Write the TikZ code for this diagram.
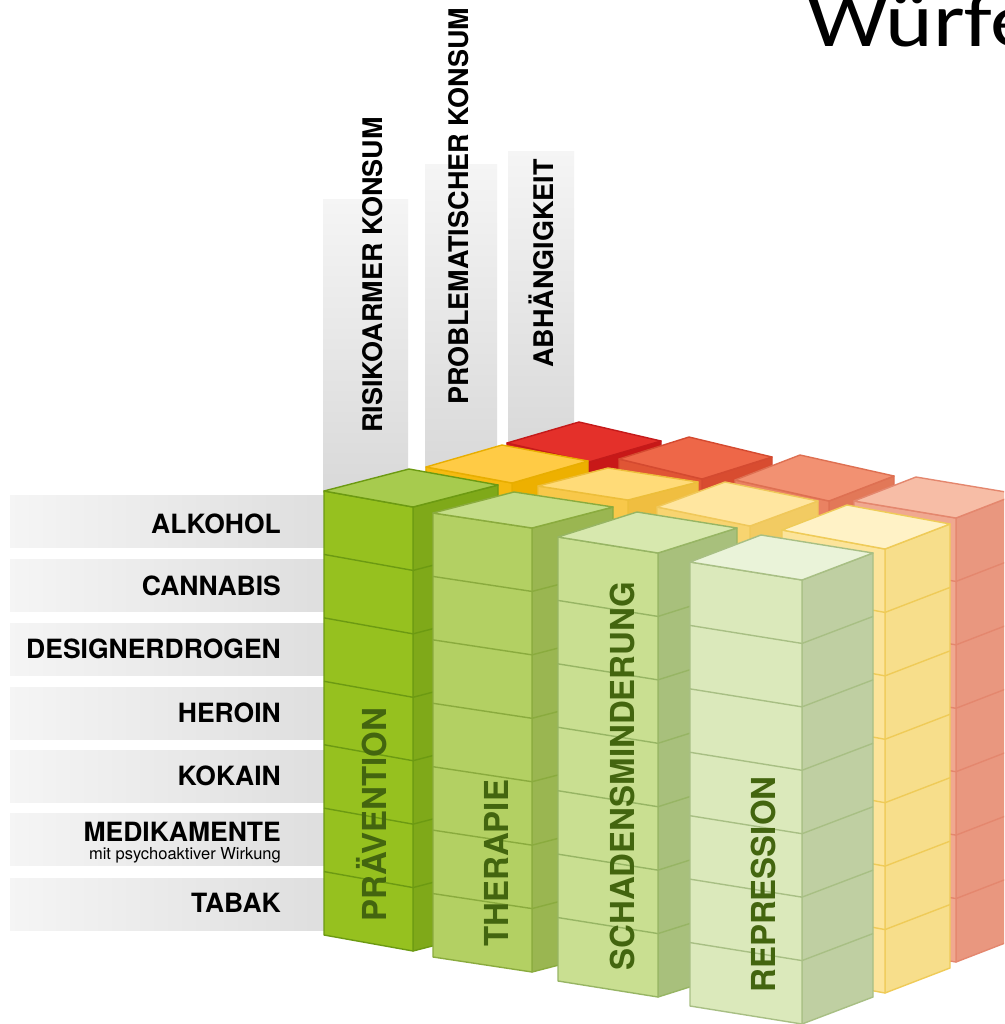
\documentclass[tikz,border=0pt]{standalone}
\usepackage{fontspec}
\setmainfont{TeX Gyre Heros}
\newfontfamily\titlefont{Carlito}
\usetikzlibrary{calc}
% green pillars
\definecolor{G0front}{HTML}{96C11F}\definecolor{G0side}{HTML}{7FA919}\definecolor{G0top}{HTML}{A7CB4E}\definecolor{G0edge}{HTML}{6C9A12}
\definecolor{G1front}{HTML}{B3D063}\definecolor{G1side}{HTML}{9AB651}\definecolor{G1top}{HTML}{C4DD88}\definecolor{G1edge}{HTML}{8AAB3E}
\definecolor{G2front}{HTML}{C9DF91}\definecolor{G2side}{HTML}{A8C07C}\definecolor{G2top}{HTML}{D7E8AE}\definecolor{G2edge}{HTML}{97B564}
\definecolor{G3front}{HTML}{DBE9BB}\definecolor{G3side}{HTML}{BFCFA2}\definecolor{G3top}{HTML}{EAF3D9}\definecolor{G3edge}{HTML}{A8BF84}
% yellow pillars
\definecolor{Y0front}{HTML}{F5BA10}\definecolor{Y0side}{HTML}{EDB000}\definecolor{Y0top}{HTML}{FFCB45}\definecolor{Y0edge}{HTML}{E8AE00}
\definecolor{Y1front}{HTML}{F8C84A}\definecolor{Y1side}{HTML}{F0BE40}\definecolor{Y1top}{HTML}{FFDB78}\definecolor{Y1edge}{HTML}{EDBE3A}
\definecolor{Y2front}{HTML}{F8D470}\definecolor{Y2side}{HTML}{F2CB62}\definecolor{Y2top}{HTML}{FFE6A0}\definecolor{Y2edge}{HTML}{F0C85A}
\definecolor{Y3front}{HTML}{FCE49A}\definecolor{Y3side}{HTML}{F7DE8B}\definecolor{Y3top}{HTML}{FFF2C6}\definecolor{Y3edge}{HTML}{EFCB58}
% red pillars
\definecolor{R0front}{HTML}{D42020}\definecolor{R0side}{HTML}{C81818}\definecolor{R0top}{HTML}{E4302A}\definecolor{R0edge}{HTML}{C41A1A}
\definecolor{R1front}{HTML}{E05535}\definecolor{R1side}{HTML}{D84C30}\definecolor{R1top}{HTML}{EE6748}\definecolor{R1edge}{HTML}{D44A30}
\definecolor{R2front}{HTML}{EA8262}\definecolor{R2side}{HTML}{E27858}\definecolor{R2top}{HTML}{F29172}\definecolor{R2edge}{HTML}{DE7052}
\definecolor{R3front}{HTML}{F0A890}\definecolor{R3side}{HTML}{E9977F}\definecolor{R3top}{HTML}{F7BDA6}\definecolor{R3edge}{HTML}{E4876E}
\definecolor{labgreen}{HTML}{43650F}
\def\ph{444}
\tikzset{
  pedge/.style={line width=1.4pt, line join=round},
  rowlab/.style={inner sep=0pt, anchor=base east, font=\bfseries\fontsize{26.5}{26.5}\selectfont},
  sublab/.style={inner sep=0pt, anchor=base east, font=\fontsize{16.5}{16.5}\selectfont},
  toplab/.style={inner sep=0pt, anchor=base west, rotate=90, font=\bfseries\fontsize{27}{27}\selectfont},
  pillab/.style={inner sep=0pt, anchor=base west, rotate=90, text=labgreen, font=\bfseries\fontsize{33}{33}\selectfont},
  rowbar/.style={left color=black!4, right color=black!13},
  colbar/.style={top color=black!4, bottom color=black!15}
}
% #1 Lx #2 Ly #3 ax #4 ay #5 bx #6 by #7 colour scheme
\newcommand\drawpillar[7]{%
  \coordinate (L) at (#1,#2);
  \coordinate (F) at ({#1+#3},{#2+#4});
  \coordinate (R) at ({#1+#3+#5},{#2+#4+#6});
  \coordinate (B) at ({#1+#5},{#2+#6});
  \filldraw[pedge, fill=#7side, draw=#7edge] (F) -- (R) -- ($(R)+(0,\ph)$) -- ($(F)+(0,\ph)$) -- cycle;
  \filldraw[pedge, fill=#7front, draw=#7edge] (L) -- (F) -- ($(F)+(0,\ph)$) -- ($(L)+(0,\ph)$) -- cycle;
  \foreach \k in {1,...,6}{\draw[pedge, draw=#7edge] ($(L)+(0,\k*\ph/7)$) -- ($(F)+(0,\k*\ph/7)$) -- ($(R)+(0,\k*\ph/7)$);}
  \filldraw[pedge, fill=#7top, draw=#7edge] (L) -- (B) -- (R) -- (F) -- cycle;
}
\begin{document}
\begin{tikzpicture}[x=1pt,y=-1pt]
\useasboundingbox (0,0) rectangle (1004,1024);
\clip (0,0) rectangle (1004,1024);
\fill[white] (0,0) rectangle (1004,1024);
% title (cut by the frame)
\node[anchor=base west, inner sep=0pt, font=\titlefont\fontsize{77}{77}\selectfont] (title) at (807,46.5) {\scalebox{1.18}[1]{Würfel}};
% row bars
\foreach \yy in {495,559,623,687,750,813,878}{\shade[rowbar] (10,\yy) rectangle (330,{\yy+52});}
% column bars
\shade[colbar] (323,200) rectangle (408,492);
\shade[colbar] (425,165) rectangle (497,470);
\shade[colbar] (508,152) rectangle (574,446);
% red pillars
\drawpillar{507}{443}{82}{19}{72}{-21}{R0}
\drawpillar{619}{459}{83}{20}{70}{-22}{R1}
\drawpillar{735}{480}{94}{21}{65}{-25}{R2}
\drawpillar{854}{501}{102}{17}{62}{-24}{R3}
% yellow pillars
\drawpillar{426}{467}{86}{16}{76}{-22}{Y0}
\drawpillar{538}{486}{90}{14}{70}{-18}{Y1}
\drawpillar{657}{507}{93}{19}{68}{-25}{Y2}
\drawpillar{782}{530}{103}{19}{65}{-25}{Y3}
% green pillars
\drawpillar{324}{491}{89}{16}{85}{-22}{G0}
\drawpillar{433}{513}{99}{15}{81}{-21}{G1}
\drawpillar{558}{537}{100}{16}{79}{-25}{G2}
\drawpillar{690}{562}{112}{18}{71}{-27}{G3}
% row labels
\node[rowlab] (alk) at (281,533) {ALKOHOL};
\node[rowlab] (can) at (281,595) {CANNABIS};
\node[rowlab] (des) at (281,658) {DESIGNERDROGEN};
\node[rowlab] (her) at (281,722) {HEROIN};
\node[rowlab] (kok) at (281,785) {KOKAIN};
\node[rowlab] (med) at (281,841) {MEDIKAMENTE};
\node[sublab] (medsub) at (281,859) {mit psychoaktiver Wirkung};
\node[rowlab] (tab) at (281,912) {TABAK};
% column labels
\node[toplab] (risk) at (382,433) {RISIKOARMER KONSUM};
\node[toplab] (prob) at (468,405) {PROBLEMATISCHER KONSUM};
\node[toplab] (dep) at (553,368) {ABHÄNGIGKEIT};
% pillar labels
\node[pillab] (prae) at (386,922) {PRÄVENTION};
\node[pillab] (ther) at (508,947) {THERAPIE};
\node[pillab] (schad) at (634,971) {SCHADENSMINDERUNG};
\node[pillab] (repr) at (775,993) {REPRESSION};
\end{tikzpicture}
\end{document}
